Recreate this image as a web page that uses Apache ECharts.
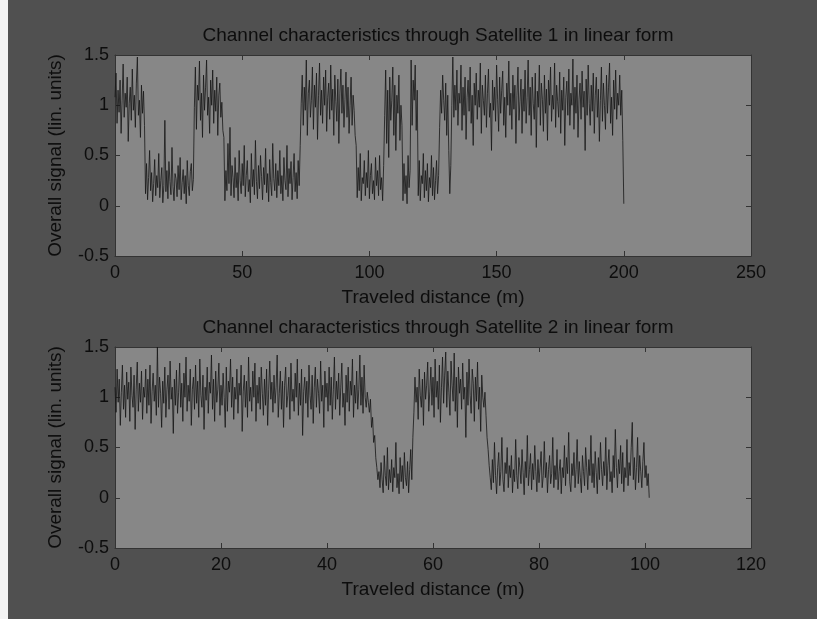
<!DOCTYPE html>
<html>
<head>
<meta charset="utf-8">
<script src="https://cdn.jsdelivr.net/npm/echarts@6/dist/echarts.min.js"></script>
<style>html,body{margin:0;padding:0;background:#505050;}#c{width:817px;height:619px;}</style>
</head>
<body>
<div id="c"></div>
<script>
// ---- Data ----
const title1 = 'Channel characteristics through Satellite 1 in linear form';
const title2 = 'Channel characteristics through Satellite 2 in linear form';
const xName = 'Traveled distance (m)';
const yName = 'Overall signal (lin. units)';

// Satellite 1: sampled every 0.4 m, from 0 to 200 m
const step1 = 0.4;
const signal1 = [
  1.08, 1.32, 0.82, 1.15, 0.93, 1.25, 0.72, 1.05, 1.41, 0.88, 1.12, 0.98, 1.28, 0.64, 1.02, 1.18, 0.85, 1.36, 0.95, 1.1, 0.78, 1.22, 1.48, 0.9, 1.05, 0.68, 1.2, 0.92, 1.14, 0.8,
  0.12, 0.42, 0.06, 0.28, 0.55, 0.15, 0.33, 0.04, 0.22, 0.46, 0.1, 0.3, 0.18, 0.52, 0.08, 0.25, 0.38, 0.03, 0.2, 0.85,
  0.14, 0.35, 0.07, 0.44, 0.24, 0.11, 0.58, 0.19, 0.05, 0.32, 0.27, 0.09, 0.4, 0.16, 0.48, 0.06, 0.23, 0.36, 0.12, 0.3,
  0.02, 0.45, 0.2, 0.1, 0.34, 0.42, 0.15, 0.26,
  0.98, 1.38, 0.76, 1.2, 1.05, 1.44, 0.85, 1.12, 0.68, 1.3, 0.95, 1.18, 1.45, 0.9, 1.08, 0.72, 1.25, 1.0, 1.35, 0.82,
  1.15, 0.94, 1.28, 0.7, 1.1, 1.22, 0.88, 1.03, 0.75, 0.68,
  0.05, 0.35, 0.15, 0.62, 0.22, 0.78, 0.1, 0.4, 0.28, 0.08, 0.48, 0.18, 0.33, 0.05, 0.55, 0.25, 0.12, 0.42, 0.2, 0.6,
  0.09, 0.3, 0.45, 0.14, 0.26, 0.03, 0.52, 0.19, 0.36, 0.11, 0.65, 0.24, 0.07, 0.4, 0.17, 0.5, 0.29, 0.06, 0.38, 0.21,
  0.57, 0.13, 0.32, 0.04, 0.46, 0.23, 0.1, 0.62, 0.27, 0.15, 0.42, 0.08, 0.35, 0.2, 0.55, 0.12, 0.3, 0.05, 0.48, 0.25,
  0.16, 0.6, 0.09, 0.37, 0.22, 0.44, 0.06, 0.28, 0.52, 0.14, 0.33, 0.07, 0.45, 0.2, 0.6,
  1.02, 1.3, 0.8, 1.18, 0.95, 1.45, 0.7, 1.12, 1.25, 0.88, 1.05, 1.38, 0.76, 1.2, 0.98, 1.32, 0.66, 1.1, 1.42, 0.9,
  1.15, 0.82, 1.28, 1.0, 1.35, 0.74, 1.08, 1.22, 0.86, 1.4, 0.95, 1.16, 0.7, 1.3, 1.04, 0.84, 1.26, 0.62, 1.12, 1.36,
  0.92, 1.2, 0.78, 1.06, 1.33, 0.88, 1.18, 0.72, 1.0, 1.28, 0.8, 1.1, 0.95, 0.7, 0.6,
  0.08, 0.38, 0.15, 0.52, 0.05, 0.28, 0.22, 0.45, 0.1, 0.33, 0.18, 0.55, 0.07, 0.3, 0.42, 0.12, 0.25, 0.06, 0.48, 0.2,
  0.35, 0.1, 0.5, 0.16, 0.28, 0.05, 0.4,
  0.9, 1.35, 0.62, 1.15, 0.48, 1.28, 0.85, 1.05, 1.38, 0.7, 1.2, 0.55, 1.1, 0.92, 1.3, 0.65, 1.0, 0.8,
  0.05, 0.42, 0.12, 0.3, 0.02, 0.5, 0.18, 0.35,
  1.45, 0.8, 1.25, 1.05, 1.4, 0.75, 1.15,
  0.1, 0.45, 0.05, 0.3, 0.22, 0.52, 0.08, 0.35, 0.15, 0.42, 0.04, 0.28, 0.18, 0.5, 0.1, 0.38, 0.06, 0.25, 0.45, 0.12, 0.3,
  0.78, 1.15, 0.92, 1.3, 1.05, 0.85, 1.22, 0.7, 1.1, 0.55,
  0.12, 0.4, 1.0, 1.48, 0.88, 1.2, 0.95, 1.35, 0.8, 1.12,
  1.02, 1.4, 0.75, 1.18, 0.9, 1.28, 0.66, 1.08, 1.25, 0.94,
  1.38, 0.82, 1.1, 0.6, 1.22, 1.0, 1.32, 0.86, 1.15, 0.98,
  1.42, 0.72, 1.2, 1.05, 0.9, 1.3, 0.78, 1.12, 1.36, 0.88,
  1.02, 0.55, 1.25, 0.95, 1.18, 0.84, 1.4, 1.06, 0.74, 1.28,
  0.92, 1.15, 1.34, 0.8, 1.08, 0.68, 1.22, 1.0, 1.44, 0.9,
  1.12, 0.76, 1.3, 0.96, 1.2, 0.62, 1.1, 1.38, 0.85, 1.04,
  1.26, 0.72, 1.16, 0.94, 1.35, 0.82, 1.08, 1.45, 0.9, 1.18,
  0.7, 1.28, 1.02, 0.86, 1.32, 0.58, 1.14, 0.98, 1.4, 0.8,
  1.22, 1.06, 0.74, 1.3, 0.92, 1.16, 0.65, 1.25, 1.0, 1.38,
  0.84, 1.1, 0.96, 1.42, 0.78, 1.2, 1.04, 0.88, 1.33, 0.72,
  1.15, 0.95, 1.28, 0.6, 1.08, 1.24, 0.9, 1.36, 0.8, 1.12,
  1.0, 1.46, 0.76, 1.18, 0.92, 1.3, 0.68, 1.06, 1.22, 0.86,
  1.34, 0.98, 1.14, 0.55, 1.26, 0.9, 1.4, 1.02, 0.8, 1.2,
  0.94, 1.32, 0.72, 1.1, 1.28, 0.88, 1.16, 0.64, 1.05, 1.38,
  0.84, 1.22, 1.0, 0.76, 1.3, 0.92, 1.18, 1.42, 0.82, 1.08,
  0.7, 1.25, 0.96, 1.35, 0.86, 1.12, 1.0, 1.3, 0.9, 1.15,
  0.65, 0.02
];

// Satellite 2: sampled every 0.2 m, from 0 to 100.8 m
const step2 = 0.2;
const signal2 = [
  1.1, 0.85, 1.28, 0.95, 1.18, 0.72, 1.05, 1.32, 0.88, 1.12,
  0.8, 1.25, 0.98, 1.15, 0.76, 1.3, 1.02, 0.9, 1.22, 0.68,
  1.08, 1.35, 0.86, 1.14, 0.95, 1.26, 0.78, 1.1, 1.0, 1.28,
  0.84, 1.18, 0.92, 1.32, 0.74, 1.06, 1.24, 0.96, 1.12, 0.82,
  1.5, 0.9, 1.2, 1.04, 0.7, 1.16, 0.94, 1.3, 0.8, 1.08,
  1.22, 0.88, 1.36, 0.98, 1.1, 0.64, 1.18, 0.92, 1.27, 0.84,
  1.05, 1.34, 0.9, 1.14, 0.76, 1.24, 1.0, 1.4, 0.86, 1.12,
  0.96, 1.28, 0.72, 1.08, 1.2, 0.88, 1.32, 0.94, 1.16, 0.8,
  1.38, 1.02, 0.9, 1.22, 0.68, 1.1, 0.97, 1.3, 0.84, 1.15,
  1.04, 1.42, 0.88, 1.18, 0.76, 1.26, 0.95, 1.08, 1.34, 0.82,
  1.12, 0.92, 1.24, 1.0, 0.7, 1.3, 0.86, 1.16, 1.05, 1.38,
  0.9, 1.2, 0.78, 1.1, 0.98, 1.28, 0.84, 1.14, 1.02, 1.32,
  0.66, 1.06, 1.22, 0.9, 1.16, 0.8, 1.4, 0.96, 1.1, 0.86,
  1.26, 1.0, 1.34, 0.76, 1.12, 0.94, 1.2, 0.88, 1.3, 1.04,
  0.82, 1.18, 0.92, 1.28, 0.72, 1.08, 1.36, 0.98, 1.15, 0.85,
  1.22, 0.94, 1.1, 1.42, 0.8, 1.04, 1.26, 0.88, 1.16, 0.7,
  1.12, 1.3, 0.9, 1.02, 1.2, 0.78, 1.34, 0.96, 1.08, 0.86,
  1.24, 1.0, 1.38, 0.82, 1.14, 0.92, 1.28, 0.62, 1.06, 1.2,
  0.94, 1.16, 0.8, 1.32, 1.02, 0.88, 1.22, 0.74, 1.1, 1.3,
  0.9, 1.18, 1.04, 0.84, 1.36, 0.96, 1.12, 0.7, 1.26, 1.0,
  1.14, 0.86, 1.3, 0.92, 1.2, 0.78, 1.08, 1.4, 0.88, 1.16,
  0.98, 1.24, 0.82, 1.1, 1.34, 0.9, 1.04, 0.72, 1.22, 0.95,
  1.3, 0.86, 1.16, 1.02, 1.38, 0.8, 1.12, 0.94, 1.26, 0.88,
  1.08, 1.42, 0.92, 1.2, 0.84, 1.32, 1.0, 0.9, 1.05, 0.95,
  0.85, 0.98, 0.7, 0.8, 0.55, 0.62, 0.4, 0.3, 0.18, 0.26,
  0.1, 0.35, 0.18, 0.05, 0.42, 0.22, 0.12, 0.5, 0.08, 0.28,
  0.15, 0.38, 0.06, 0.3, 0.2, 0.55, 0.1, 0.24, 0.04, 0.4,
  0.16, 0.32, 0.09, 0.45, 0.2, 0.12, 0.36, 0.05, 0.28, 0.48,
  0.18, 0.6,
  0.85, 1.2, 0.95, 1.1, 0.78, 1.28, 1.02, 0.9, 1.18, 0.72,
  1.25, 0.98, 1.12, 1.35, 0.86, 1.06, 1.3, 0.92, 1.2, 0.8,
  1.38, 1.0, 1.16, 0.88, 1.32, 0.75, 1.1, 1.4, 0.94, 1.22,
  1.45, 0.9, 1.26, 1.05, 0.82, 1.36, 1.12, 0.96, 1.44, 0.86,
  1.2, 0.7, 1.3, 1.04, 1.18, 0.88, 1.34, 0.98, 1.1, 0.6,
  1.25, 0.92, 1.38, 1.02, 0.84, 1.28, 1.14, 0.76, 1.2, 0.96,
  1.35, 0.88, 1.1, 0.66, 1.22, 1.0, 0.9, 1.05,
  0.82, 0.6, 0.48, 0.32, 0.2,
  0.08, 0.38, 0.15, 0.55, 0.22, 0.04, 0.3, 0.45, 0.12, 0.26,
  0.6, 0.18, 0.06, 0.35, 0.24, 0.5, 0.1, 0.32, 0.2, 0.42,
  0.05, 0.28, 0.16, 0.58, 0.22, 0.09, 0.4, 0.3, 0.14, 0.48,
  0.25, 0.03, 0.36, 0.2, 0.62, 0.12, 0.28, 0.44, 0.08, 0.34,
  0.18, 0.52, 0.26, 0.06, 0.38, 0.15, 0.3, 0.46, 0.1, 0.22,
  0.56, 0.2, 0.35, 0.05, 0.28, 0.42, 0.14, 0.24, 0.6, 0.1,
  0.32, 0.18, 0.48, 0.08, 0.26, 0.38, 0.04, 0.3, 0.2, 0.52,
  0.12, 0.4, 0.24, 0.65, 0.16, 0.06, 0.34, 0.22, 0.45, 0.1,
  0.28, 0.58, 0.14, 0.36, 0.2, 0.05, 0.42, 0.26, 0.12, 0.5,
  0.3, 0.08, 0.38, 0.22, 0.62, 0.15, 0.34, 0.1, 0.46, 0.25,
  0.04, 0.4, 0.18, 0.55, 0.28, 0.12, 0.36, 0.22, 0.6, 0.08,
  0.32, 0.48, 0.16, 0.26, 0.05, 0.42, 0.2, 0.68, 0.3, 0.1,
  0.38, 0.24, 0.52, 0.14, 0.45, 0.06, 0.3, 0.2, 0.58, 0.12,
  0.35, 0.22, 0.5, 0.75, 0.18, 0.4, 0.08, 0.3, 0.6, 0.15,
  0.42, 0.26, 0.1, 0.36, 0.55, 0.2, 0.32, 0.12, 0.24, 0.0
];

const xTicks1 = [0, 50, 100, 150, 200, 250];
const xTicks2 = [0, 20, 40, 60, 80, 100, 120];
const yTicks = [-0.5, 0, 0.5, 1, 1.5];

// ---- Chart ----
const FONT = 'Liberation Sans, Arial, sans-serif';
const TXT = '#0d0d0d';
const chart = echarts.init(document.getElementById('c'), null, {renderer: 'canvas'});

function pts(arr, step) { return arr.map((v, i) => [+(i * step).toFixed(2), v]); }

function xAxes(grid, ticks) {
  const min = ticks[0], max = ticks[ticks.length - 1], interval = ticks[1] - ticks[0];
  const common = {
    type: 'value', gridIndex: grid, min, max, interval,
    axisLine: {show: true, onZero: false, lineStyle: {color: '#333', width: 1}},
    axisTick: {show: true, inside: true, length: 5, lineStyle: {color: '#333'}},
    splitLine: {show: false}
  };
  return [
    Object.assign({}, common, {
      position: 'bottom',
      axisLabel: {color: TXT, fontSize: 18, fontFamily: FONT, margin: 8},
      name: xName, nameLocation: 'middle', nameGap: 32,
      nameTextStyle: {color: TXT, fontSize: 19, fontFamily: FONT}
    }),
    Object.assign({}, common, {position: 'top', axisLabel: {show: false}})
  ];
}
function yAxes(grid) {
  const common = {
    type: 'value', gridIndex: grid, min: yTicks[0], max: yTicks[yTicks.length - 1], interval: yTicks[1] - yTicks[0],
    axisLine: {show: true, onZero: false, lineStyle: {color: '#333', width: 1}},
    axisTick: {show: true, inside: true, length: 5, lineStyle: {color: '#333'}},
    splitLine: {show: false}
  };
  return [
    Object.assign({}, common, {
      position: 'left',
      axisLabel: {color: TXT, fontSize: 18, fontFamily: FONT, margin: 6},
      name: yName, nameLocation: 'middle', nameGap: 50, nameRotate: 90,
      nameTextStyle: {color: TXT, fontSize: 19, fontFamily: FONT}
    }),
    Object.assign({}, common, {position: 'right', axisLabel: {show: false}})
  ];
}

const option = {
  animation: false,
  backgroundColor: '#505050',
  graphic: [{type: 'rect', left: 0, top: 0, shape: {width: 8, height: 619}, style: {fill: '#f2f2f2'}, silent: true}],
  title: [
    {text: title1, left: 433, top: 21, textAlign: 'center', textStyle: {color: TXT, fontSize: 19, fontWeight: 'normal', fontFamily: FONT}},
    {text: title2, left: 433, top: 313, textAlign: 'center', textStyle: {color: TXT, fontSize: 19, fontWeight: 'normal', fontFamily: FONT}}
  ],
  grid: [
    {left: 115, top: 55, width: 636, height: 201, show: true, backgroundColor: '#878787', borderWidth: 0},
    {left: 115, top: 347, width: 636, height: 201, show: true, backgroundColor: '#878787', borderWidth: 0}
  ],
  xAxis: [].concat(xAxes(0, xTicks1), xAxes(1, xTicks2)),
  yAxis: [].concat(yAxes(0), yAxes(1)),
  series: [
    {type: 'line', xAxisIndex: 0, yAxisIndex: 0, data: pts(signal1, step1), showSymbol: false, symbol: 'none',
     lineStyle: {color: '#161616', width: 0.8}},
    {type: 'line', xAxisIndex: 2, yAxisIndex: 2, data: pts(signal2, step2), showSymbol: false, symbol: 'none',
     lineStyle: {color: '#161616', width: 0.8}}
  ]
};
chart.setOption(option);
</script>
</body>
</html>
